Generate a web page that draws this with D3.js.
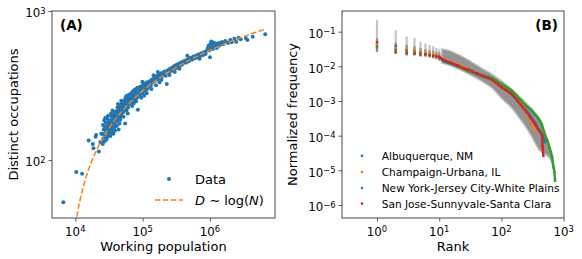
<!DOCTYPE html>
<html><head><meta charset="utf-8">
<script src="https://cdn.jsdelivr.net/npm/d3@7"></script>
<style>body{margin:0;background:#fff}svg{display:block}text{font-family:"DejaVu Sans",sans-serif;fill:#000}</style>
</head><body>
<script>
// ---------- Panel A data: working population vs distinct occupations ----------
const population = [
6640,10350,12600,15800,18200,18600,20000,20400,22400,23500,24300,
25200,25800,26100,26500,26900,27200,27600,28000,28300,28700,29000,29400,29800,30100,30500,30900,31200,31600,32000,26300,27900,29100,31800,25500,30700,
32500,33000,33400,33800,34200,34600,35000,35400,35800,36200,36600,37000,37400,37800,38200,38600,39000,39400,39800,33200,35600,36900,38900,34000,37600,
40300,40800,41300,41800,42300,42800,43300,43800,44300,44800,45300,45800,46300,46800,47300,47800,48300,48800,49300,49800,41500,44000,46500,48000,43000,
50500,51200,51900,52600,53300,54000,54700,55400,56100,56800,57500,58200,58900,59600,60300,61000,61700,62400,63100,63800,52000,55000,57000,60000,64500,
65500,66500,67500,68500,69500,70500,71500,72500,73500,74500,75500,76500,77500,78500,79500,80500,81500,82500,83500,84500,70000,80000,85000,
86000,88000,90000,92000,94000,96000,98000,100000,102000,104000,106000,108000,110000,112000,114000,116000,118000,120000,95000,105000,115000,99000,
124000,128000,132000,136000,140000,145000,150000,155000,160000,165000,170000,175000,180000,186000,192000,198000,135000,158000,178000,146000,190000,168000,
205000,212000,220000,228000,236000,245000,255000,265000,275000,285000,295000,305000,318000,330000,342000,355000,368000,382000,396000,250000,300000,350000,
410000,430000,450000,470000,490000,515000,540000,565000,590000,620000,650000,680000,710000,745000,780000,820000,860000,900000,460000,700000,
920000,950000,980000,1010000,1040000,1070000,1100000,1130000,1160000,1190000,1220000,1260000,1300000,1350000,1400000,1450000,1520000,1580000,1000000,1045000,
1700000,1850000,2000000,2100000,2300000,2450000,2650000,2850000,3400000,3600000,4300000,6600000
];
const occupations = [
52,83,81,135,128,120,143,147,114,132,150,
150,172,140,160,185,148,165,135,178,155,168,142,190,160,152,175,145,182,158,132,192,138,168,128,198,
172,160,185,150,178,195,165,182,155,200,172,188,162,205,176,192,168,210,183,145,215,150,158,205,190,
195,212,182,205,225,198,188,215,230,200,176,220,208,235,195,218,228,205,240,212,170,160,186,250,238,
225,240,210,232,250,220,238,260,228,245,215,255,236,270,242,225,258,248,275,238,195,176,268,205,262,
255,270,245,282,262,250,288,268,240,276,295,262,280,255,300,272,285,262,305,278,230,248,217,
282,298,272,310,290,305,280,318,295,312,288,325,300,318,296,332,312,305,262,270,280,335,
320,338,315,345,330,352,338,360,345,368,350,372,358,380,362,385,300,318,332,370,345,390,
375,392,368,324,400,385,410,395,418,402,428,412,435,418,442,428,450,435,458,372,390,410,
448,465,452,475,462,485,470,495,480,502,488,512,498,520,505,530,515,540,500,478,
560,585,545,600,572,620,555,590,610,575,598,565,605,585,612,595,620,600,490,625,
628,610,640,618,650,622,662,645,660,638,672,698
];
// fit  D = fitSlope * log10(N) + fitIntercept
const fitSlope = 255, fitIntercept = -984;

// ---------- Panel B data ----------
const cities = ["Albuquerque, NM","Champaign-Urbana, IL","New York-Jersey City-White Plains","San Jose-Sunnyvale-Santa Clara"];
const cityColors = ["#1f77b4","#ff7f0e","#2ca02c","#d62728"];
const albRank = [1,2,3,4,5,6,7,8,9,10,12,15,20,25,30,40,50,70,100,150,200,250,300,350,400,450,480,500];
const albFreq = [0.0396,0.0388,0.030,0.028,0.026,0.024,0.022,0.021,0.0195,0.0175,0.0138,0.0122,0.0098,0.0085,0.0075,0.006,0.0052,0.0041,0.0026,0.0015,0.00085,0.00055,0.00034,0.00023,0.00015,0.00011,0.00008,0.000065];
const chaRank = [1,2,3,4,5,6,7,8,9,10,12,15,18,20,25,30,40,50,70,100,150,200,250,271,300,320,340];
const chaFreq = [0.0435,0.0333,0.033,0.030,0.027,0.025,0.024,0.022,0.021,0.020,0.0155,0.0135,0.0124,0.0112,0.0092,0.0078,0.0063,0.0054,0.0042,0.0026,0.0015,0.0009,0.00052,0.00036,0.00026,0.00019,0.00014];
const nycRank = [1,2,3,4,5,6,7,8,9,10,12,15,20,25,30,40,50,70,100,150,200,240,300,350,400,444,500,550,600,650,684,710,728];
const nycFreq = [0.0347,0.0298,0.0266,0.025,0.024,0.022,0.021,0.020,0.019,0.018,0.0145,0.013,0.0102,0.0084,0.0071,0.0062,0.0055,0.0046,0.0031,0.0019,0.0011,0.00078,0.00056,0.0004,0.0003,0.00021,0.000105,0.00007,0.000042,0.000025,0.000013,0.000009,0.000005];
const sjRank = [1,2,3,4,5,6,7,8,9,10,12,15,20,25,30,40,50,70,100,150,200,250,300,350,400,444,460,472];
const sjFreq = [0.0496,0.0261,0.024,0.023,0.022,0.022,0.021,0.020,0.0195,0.019,0.015,0.0128,0.0105,0.0088,0.0079,0.0063,0.0053,0.0041,0.0025,0.0015,0.00081,0.0005,0.00031,0.00021,0.00014,0.000107,0.00005,0.000026];
// all cities (gray): spread per rank for top ranks, band for the rest
const grayColRank  = [1,2,3,4,5,6,7,8,9,10];
const grayColLow   = [0.026,0.0226,0.0206,0.0206,0.0193,0.019,0.018,0.017,0.016,0.0147];
const grayColDense = [0.065,0.048,0.042,0.038,0.034,0.031,0.029,0.028,0.026,0.025];
const grayColHigh  = [0.216,0.11,0.072,0.065,0.05,0.045,0.041,0.038,0.034,0.031];
const grayRank = [11,15,20,30,50,70,100,150,200,250,300,350,400,450,500,550,600,650,690];
const grayHigh = [0.032,0.028,0.022,0.015,0.0085,0.006,0.0038,0.0021,0.0013,0.00088,0.00062,0.00045,0.00033,0.00023,0.00013,0.00008,0.000048,0.000028,0.000014];
const grayLow  = [0.0125,0.0105,0.0085,0.006,0.0036,0.0024,0.0012,0.0006,0.0003,0.00017,0.0001,0.00006,0.00004,0.000033,0.00003,0.000026,0.000022,0.000016,0.00001];

// tick labels
const xTickExpA = [4,5,6], yTickExpA = [2,3];
const xTickExpB = [0,1,2,3], yTickExpB = [-6,-5,-4,-3,-2,-1];

// ---------- drawing ----------
const W=582,H=259;
const svg=d3.select("body").append("svg").attr("width",W).attr("height",H);
const A={x0:52,x1:275,y0:11,y1:218};
const B={x0:342,x1:564,y0:11,y1:218};
const xA=d3.scaleLog().domain([4508,9.23e6]).range([A.x0,A.x1]);
const yA=d3.scaleLog().domain([40.8,1000]).range([A.y1,A.y0]);
const xB=d3.scaleLog().domain([0.2737,1014]).range([B.x0,B.x1]);
const yB=d3.scaleLog().domain([4.22e-7,0.395]).range([B.y1,B.y0]);
const axisColor="#333";

function minorVals(dom){const [a,b]=dom;const out=[];for(let e=Math.floor(Math.log10(a));e<=Math.ceil(Math.log10(b));e++){for(let m=2;m<=9;m++){const v=m*Math.pow(10,e);if(v>=a&&v<=b)out.push(v);}}return out;}
function expLabel(t,e){t.append("tspan").text("10");t.append("tspan").attr("dy","-0.45em").attr("font-size","8.4px").text(e<0?"\u2212"+(-e):String(e));}

function axes(P,xs,ys,xe,ye){
  const gx=svg.append("g").attr("transform",`translate(0,${P.y1})`);
  gx.call(d3.axisBottom(xs).tickValues(minorVals(xs.domain())).tickSize(2).tickFormat(""));
  gx.call(d3.axisBottom(xs).tickValues(xe.map(e=>Math.pow(10,e))).tickSize(3.5).tickFormat(""));
  gx.selectAll(".domain").remove();
  gx.selectAll("line").attr("stroke",axisColor).attr("stroke-width",0.8);
  xe.forEach(e=>{const t=svg.append("text").attr("x",xs(Math.pow(10,e))).attr("y",P.y1+17.8).attr("text-anchor","middle").attr("font-size","11.8px");expLabel(t,e);});
  const gy=svg.append("g").attr("transform",`translate(${P.x0},0)`);
  gy.call(d3.axisLeft(ys).tickValues(minorVals(ys.domain())).tickSize(2).tickFormat(""));
  gy.call(d3.axisLeft(ys).tickValues(ye.map(e=>Math.pow(10,e))).tickSize(3.5).tickFormat(""));
  gy.selectAll(".domain").remove();
  gy.selectAll("line").attr("stroke",axisColor).attr("stroke-width",0.8);
  ye.forEach(e=>{const t=svg.append("text").attr("x",P.x0-6.5).attr("y",ys(Math.pow(10,e))+6.3).attr("text-anchor","end").attr("font-size","11.8px");expLabel(t,e);});
}
function clip(id,P){svg.append("clipPath").attr("id",id).append("rect").attr("x",P.x0).attr("y",P.y0).attr("width",P.x1-P.x0).attr("height",P.y1-P.y0);}
clip("cA",A);clip("cB",B);

// Panel A
const gA=svg.append("g").attr("clip-path","url(#cA)");
gA.selectAll("circle").data(population.map((n,i)=>[n,occupations[i]])).join("circle")
  .attr("cx",d=>xA(d[0])).attr("cy",d=>yA(d[1])).attr("r",2).attr("fill","#1f77b4");
const nMin=d3.min(population), nMax=d3.max(population);
const fitN=d3.range(0,101).map(i=>nMin*Math.pow(nMax/nMin,i/100)).filter(n=>fitSlope*Math.log10(n)+fitIntercept>1);
gA.append("path").datum(fitN).attr("fill","none").attr("stroke","#ff7f0e").attr("stroke-width",1.5).attr("stroke-dasharray","5.5,2.4")
  .attr("d",d3.line().x(n=>xA(n)).y(n=>yA(fitSlope*Math.log10(n)+fitIntercept)));
svg.append("rect").attr("x",A.x0).attr("y",A.y0).attr("width",A.x1-A.x0).attr("height",A.y1-A.y0).attr("fill","none").attr("stroke",axisColor).attr("stroke-width",0.9);
axes(A,xA,yA,xTickExpA,yTickExpA);
svg.append("text").attr("x",60).attr("y",29.5).attr("font-size","13.5px").attr("font-weight","bold").text("(A)");
svg.append("text").attr("x",(A.x0+A.x1)/2).attr("y",250.5).attr("text-anchor","middle").attr("font-size","13px").text("Working population");
svg.append("text").attr("transform",`translate(17.5,${(A.y0+A.y1)/2}) rotate(-90)`).attr("text-anchor","middle").attr("font-size","13px").text("Distinct occupations");
// legend A
svg.append("circle").attr("cx",169).attr("cy",179).attr("r",2).attr("fill","#1f77b4");
svg.append("text").attr("x",195).attr("y",183.8).attr("font-size","13px").text("Data");
svg.append("line").attr("x1",155).attr("x2",183).attr("y1",200).attr("y2",200).attr("stroke","#ff7f0e").attr("stroke-width",1.5).attr("stroke-dasharray","5.5,2.4");
const lt=svg.append("text").attr("x",195).attr("y",204.8).attr("font-size","13px");
lt.append("tspan").attr("font-style","italic").text("D");
lt.append("tspan").text(" \u223C log(");
lt.append("tspan").attr("font-style","italic").text("N");
lt.append("tspan").text(")");

// Panel B
const gB=svg.append("g").attr("clip-path","url(#cB)");
const cols=grayColRank.map((r,i)=>[r,grayColLow[i],grayColDense[i],grayColHigh[i]]);
gB.selectAll("line.gl").data(cols).join("line").attr("class","gl")
  .attr("x1",d=>xB(d[0])).attr("x2",d=>xB(d[0])).attr("y1",d=>yB(d[1])).attr("y2",d=>yB(d[3]))
  .attr("stroke","#c4c4c4").attr("stroke-width",2.2);
gB.selectAll("line.gd").data(cols).join("line").attr("class","gd")
  .attr("x1",d=>xB(d[0])).attr("x2",d=>xB(d[0])).attr("y1",d=>yB(d[1])).attr("y2",d=>yB(d[2]))
  .attr("stroke","#939393").attr("stroke-width",2.2);
gB.append("path").datum(grayRank.map((r,i)=>[r,grayLow[i],grayHigh[i]]))
  .attr("fill","#939393").attr("stroke","#bdbdbd").attr("stroke-width",1.4)
  .attr("d",d3.area().curve(d3.curveMonotoneX).x(d=>xB(d[0])).y0(d=>yB(d[1])).y1(d=>yB(d[2])));
const series=[[albRank,albFreq],[chaRank,chaFreq],[nycRank,nycFreq],[sjRank,sjFreq]];
series.forEach((s,k)=>{
  const pts=s[0].map((r,i)=>[r,s[1][i]]);
  gB.append("path").datum(pts.filter(d=>d[0]>=10)).attr("fill","none").attr("stroke",cityColors[k])
    .attr("stroke-width",k===1?1.4:2.4).attr("d",d3.line().curve(d3.curveMonotoneX).x(d=>xB(d[0])).y(d=>yB(d[1])));
  gB.append("g").selectAll("rect").data(pts).join("rect")
    .attr("x",d=>xB(d[0])-1.2).attr("y",d=>yB(d[1])-1.2).attr("width",2.4).attr("height",2.4).attr("fill",cityColors[k]);
});
svg.append("rect").attr("x",B.x0).attr("y",B.y0).attr("width",B.x1-B.x0).attr("height",B.y1-B.y0).attr("fill","none").attr("stroke",axisColor).attr("stroke-width",0.9);
axes(B,xB,yB,xTickExpB,yTickExpB);
svg.append("text").attr("x",558).attr("y",29.5).attr("text-anchor","end").attr("font-size","13.5px").attr("font-weight","bold").text("(B)");
svg.append("text").attr("x",(B.x0+B.x1)/2).attr("y",250.5).attr("text-anchor","middle").attr("font-size","13px").text("Rank");
svg.append("text").attr("transform",`translate(297,${(B.y0+B.y1)/2}) rotate(-90)`).attr("text-anchor","middle").attr("font-size","13px").text("Normalized frequency");
// legend B
const legY=[155.8,172,188,203.6];
cities.forEach((c,k)=>{
  svg.append("rect").attr("x",360.8).attr("y",legY[k]-1.2).attr("width",2.4).attr("height",2.4).attr("fill",cityColors[k]);
  svg.append("text").attr("x",381.7).attr("y",legY[k]+3.9).attr("font-size","10.6px").text(c);
});
</script>
</body></html>
